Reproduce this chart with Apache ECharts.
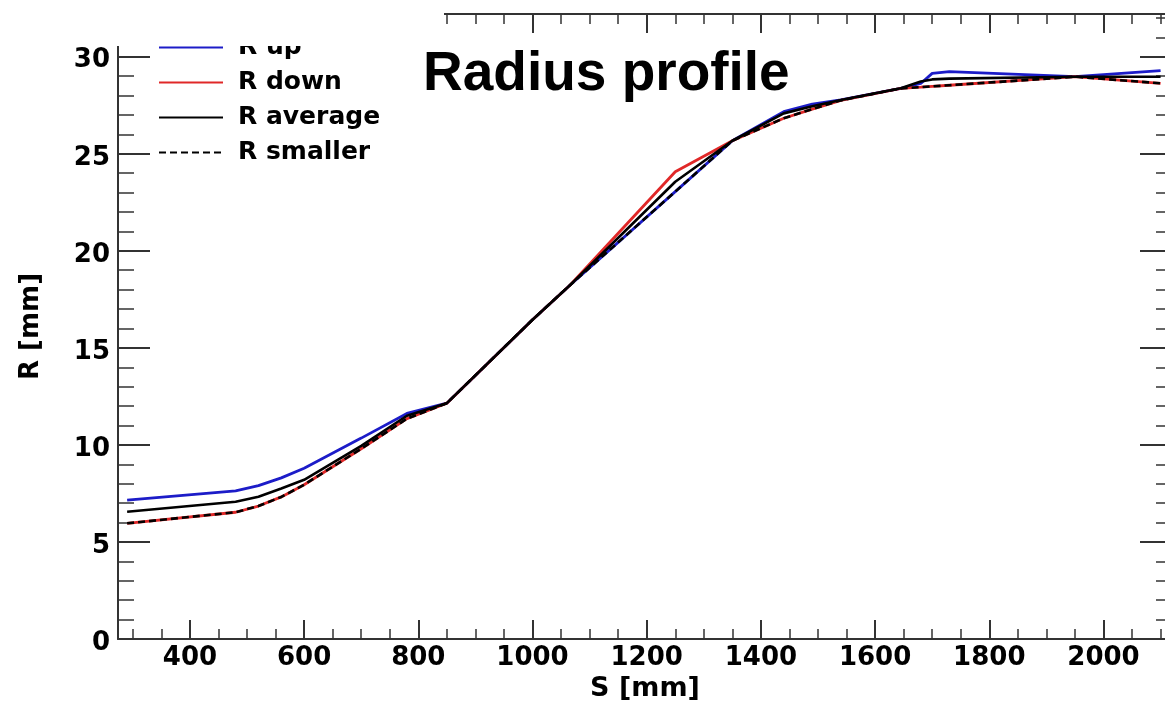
<!DOCTYPE html>
<html>
<head>
<meta charset="utf-8">
<script src="https://cdn.jsdelivr.net/npm/echarts@6/dist/echarts.min.js"></script>
<style>html,body{margin:0;padding:0;background:#fff}#c{width:1165px;height:702px}</style>
</head>
<body>
<div id="c"></div>
<script>
// S positions [mm]
const sValues  = [290, 480, 520, 560, 600, 700, 780, 850, 1000, 1066, 1250, 1350, 1440, 1490, 1540, 1645, 1680, 1700, 1730, 1950, 2100];
// Radii [mm]
const rUp      = [7.16, 7.63, 7.90, 8.30, 8.80, 10.35, 11.62, 12.15, 16.45, 18.24, 23.05, 25.67, 27.17, 27.56, 27.77, 28.37, 28.62, 29.14, 29.23, 28.97, 29.28];
const rDown    = [5.96, 6.53, 6.85, 7.32, 7.95, 9.80, 11.35, 12.15, 16.45, 18.24, 24.07, 25.67, 26.83, 27.30, 27.75, 28.37, 28.43, 28.47, 28.53, 28.97, 28.63];
const rAverage = [6.56, 7.07, 7.33, 7.75, 8.20, 9.95, 11.50, 12.15, 16.45, 18.24, 23.56, 25.67, 27.08, 27.45, 27.77, 28.37, 28.72, 28.83, 28.87, 28.97, 28.97];
const rSmaller = [5.96, 6.53, 6.85, 7.32, 7.95, 9.80, 11.35, 12.15, 16.45, 18.24, 23.05, 25.67, 26.83, 27.30, 27.75, 28.37, 28.43, 28.47, 28.53, 28.97, 28.63];

// tick labels / tick positions
const xMajorTicks = [400, 600, 800, 1000, 1200, 1400, 1600, 1800, 2000];
const xMinorTicks = [300, 350, 450, 500, 550, 650, 700, 750, 850, 900, 950, 1050, 1100, 1150, 1250, 1300, 1350, 1450, 1500, 1550, 1650, 1700, 1750, 1850, 1900, 1950, 2050, 2100];
const yMajorTicks = [0, 5, 10, 15, 20, 25, 30];
const yMinorTicks = [1, 2, 3, 4, 6, 7, 8, 9, 11, 12, 13, 14, 16, 17, 18, 19, 21, 22, 23, 24, 26, 27, 28, 29, 31, 32];

const X_MIN = 274, X_MAX = 2120, Y_MIN = 0, Y_MAX = 32.2;
const FONT = '"DejaVu Sans", sans-serif';
const AXC = '#333';

function pairs(xs, ys) { return xs.map((x, i) => [x, ys[i]]); }
const plain = v => String(v);

function xAxisDef(pos, ticks, len, showLine, showLabel, extra) {
  return Object.assign({
    type: 'value', position: pos, min: X_MIN, max: X_MAX, gridIndex: 0,
    axisLine: { show: showLine, onZero: false, lineStyle: { color: AXC, width: 2 } },
    axisTick: { show: true, inside: true, length: len, customValues: ticks, lineStyle: { color: AXC, width: len > 12 ? 2 : 1.5 } },
    axisLabel: showLabel ? { show: true, customValues: ticks, formatter: plain, margin: 6, color: '#000', fontFamily: FONT, fontWeight: 'bold', fontSize: 26 } : { show: false },
    splitLine: { show: false }
  }, extra || {});
}
function yAxisDef(pos, ticks, len, showLine, showLabel, extra) {
  return Object.assign({
    type: 'value', position: pos, min: Y_MIN, max: Y_MAX, gridIndex: 0,
    axisLine: { show: showLine, onZero: false, lineStyle: { color: AXC, width: 2 } },
    axisTick: { show: true, inside: true, length: len, customValues: ticks, lineStyle: { color: AXC, width: len > 20 ? 2 : 1.5 } },
    axisLabel: showLabel ? { show: true, customValues: ticks, formatter: plain, margin: 8, verticalAlign: 'top', lineHeight: 8, color: '#000', fontFamily: FONT, fontWeight: 'bold', fontSize: 26 } : { show: false },
    splitLine: { show: false }
  }, extra || {});
}

const chart = echarts.init(document.getElementById('c'), null, { renderer: 'canvas' });
chart.setOption({
  animation: false,
  backgroundColor: '#fff',
  title: {
    text: 'Radius profile', left: 423, top: 47, padding: 0,
    textStyle: { fontFamily: '"Liberation Sans", Arial, sans-serif', fontWeight: 'bold', fontSize: 55, color: '#000' }
  },
  legend: {
    orient: 'vertical', left: 158, top: 35, padding: 0, itemWidth: 64, itemHeight: 25, itemGap: 10,
    itemStyle: { opacity: 0 },
    textStyle: { fontFamily: FONT, fontWeight: 'bold', fontSize: 25, color: '#000', padding: [0, 0, 0, 10] },
    data: ['R up', 'R down', 'R average', 'R smaller']
  },
  grid: { left: 118, top: 14, width: 1054, height: 625, outerBoundsMode: 'none', containLabel: false },
  xAxis: [
    xAxisDef('bottom', xMajorTicks, 19, true, true, {
      name: 'S [mm]', nameLocation: 'middle', nameGap: 36,
      nameTextStyle: { fontFamily: FONT, fontWeight: 'bold', fontSize: 27, color: '#000' }
    }),
    xAxisDef('bottom', xMinorTicks, 10, false, false),
    xAxisDef('top', xMajorTicks, 19, true, false),
    xAxisDef('top', xMinorTicks, 10, false, false)
  ],
  yAxis: [
    yAxisDef('left', yMajorTicks, 32, true, true, {
      name: 'R [mm]', nameLocation: 'middle', nameGap: 74,
      nameTextStyle: { fontFamily: FONT, fontWeight: 'bold', fontSize: 26, color: '#000' }
    }),
    yAxisDef('left', yMinorTicks, 16, false, false),
    yAxisDef('right', yMajorTicks, 32, true, false),
    yAxisDef('right', yMinorTicks, 16, false, false)
  ],
  series: [
    { name: 'R up', type: 'line', xAxisIndex: 0, yAxisIndex: 0, symbol: 'none', data: pairs(sValues, rUp),
      lineStyle: { color: '#1c1cc8', width: 2.8 }, itemStyle: { color: '#1c1cc8' } },
    { name: 'R down', type: 'line', xAxisIndex: 0, yAxisIndex: 0, symbol: 'none', data: pairs(sValues, rDown),
      lineStyle: { color: '#e02828', width: 2.8 }, itemStyle: { color: '#e02828' } },
    { name: 'R average', type: 'line', xAxisIndex: 0, yAxisIndex: 0, symbol: 'none', data: pairs(sValues, rAverage),
      lineStyle: { color: '#000', width: 2.6 }, itemStyle: { color: '#000' } },
    { name: 'R smaller', type: 'line', xAxisIndex: 0, yAxisIndex: 0, symbol: 'none', data: pairs(sValues, rSmaller),
      lineStyle: { color: '#000', width: 2.6, type: [7, 4] }, itemStyle: { color: '#000' } }
  ],
  graphic: [
    { type: 'rect', z: 100, shape: { x: 0, y: 0, width: 444, height: 46 }, style: { fill: '#fff' } }
  ]
});
</script>
</body>
</html>
